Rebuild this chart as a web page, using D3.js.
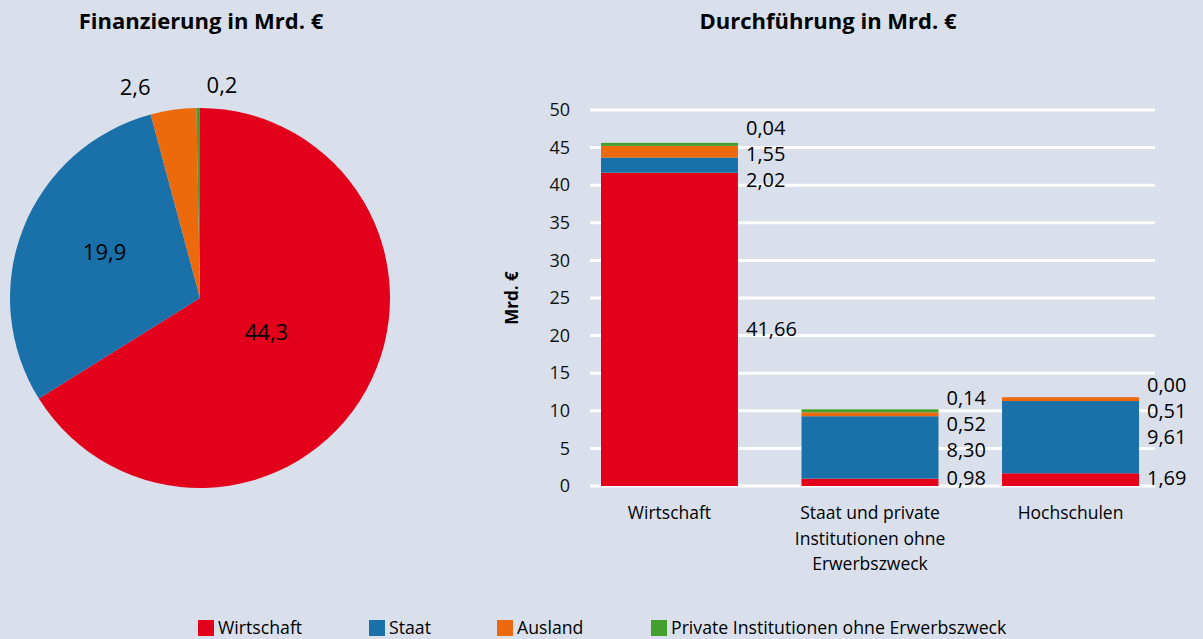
<!DOCTYPE html>
<html>
<head>
<meta charset="utf-8">
<script src="https://d3js.org/d3.v7.min.js"></script>
<style>
body { margin: 0; background: #d9e0ec; }
svg { font-family: "Open Sans", "Noto Sans", sans-serif; }
</style>
</head>
<body>
<svg width="1203" height="639"></svg>
<script>
// Finanzierung (Kreis)
var sources = ['Wirtschaft', 'Staat', 'Ausland', 'Private Institutionen ohne Erwerbszweck'];
var colors = ['#e2001a', '#1a70a8', '#ec6a0c', '#44a02c'];
var pieValues = [44.3, 19.9, 2.6, 0.2];
var pieLabels = ['44,3', '19,9', '2,6', '0,2'];

// Durchführung (gestapelte Säulen)
var sectors = ['Wirtschaft', 'Staat und private Institutionen ohne Erwerbszweck', 'Hochschulen'];
var sectorLines = [['Wirtschaft'], ['Staat und private', 'Institutionen ohne', 'Erwerbszweck'], ['Hochschulen']];
var wirtschaft = [41.66, 0.98, 1.69];
var staat = [2.02, 8.30, 9.61];
var ausland = [1.55, 0.52, 0.51];
var privat = [0.04, 0.14, 0.00];
var yTicks = [0, 5, 10, 15, 20, 25, 30, 35, 40, 45, 50];

var svg = d3.select('svg');
var fmt = function(v) { return v.toFixed(2).replace('.', ','); };

// ---- titles
svg.append('text').attr('x', 201).attr('y', 29).attr('text-anchor', 'middle')
    .style('font-weight', 'bold').style('font-size', '22px').text('Finanzierung in Mrd. €');
svg.append('text').attr('x', 828).attr('y', 29).attr('text-anchor', 'middle')
    .style('font-weight', 'bold').style('font-size', '22px').text('Durchführung in Mrd. €');

// ---- pie
var pie = d3.pie().sort(null).value(function(d) { return d; });
var arcs = pie(pieValues);
var r = 190;
var arc = d3.arc().innerRadius(0).outerRadius(r);
var gp = svg.append('g').attr('transform', 'translate(200,298)');
gp.selectAll('path').data(arcs).enter().append('path')
    .attr('d', arc)
    .attr('fill', function(d, i) { return colors[i]; });

// label radius (share of r) and nudges for the labels
var labelR = [0.4, 0.54, 1.12, 1.12];
var nudgeX = [0, 0, -35, 24];
var nudgeY = [-3, -8, 0, 0];
gp.selectAll('text.pl').data(arcs).enter().append('text')
    .attr('class', 'pl')
    .attr('transform', function(d, i) {
        var a = (d.startAngle + d.endAngle) / 2;
        var px = Math.sin(a) * r * labelR[i] + nudgeX[i];
        var py = -Math.cos(a) * r * labelR[i] + nudgeY[i];
        return 'translate(' + px + ',' + py + ')';
    })
    .attr('text-anchor', 'middle').attr('dy', '0.35em')
    .style('font-size', '22px')
    .text(function(d, i) { return pieLabels[i]; });

// ---- bars
var x = d3.scaleBand().domain(sectors).range([601, 1139]).paddingInner(0.317).paddingOuter(0);
var y = d3.scaleLinear().domain([0, 50]).range([486, 110]);

svg.append('g').selectAll('line').data(yTicks).enter().append('line')
    .attr('x1', 590).attr('x2', 1155)
    .attr('y1', function(d) { return y(d); }).attr('y2', function(d) { return y(d); })
    .attr('stroke', '#fff').attr('stroke-width', 3);

var ax = svg.append('g').attr('transform', 'translate(580,0)')
    .call(d3.axisLeft(y).tickValues(yTicks).tickSize(0).tickPadding(10));
ax.select('.domain').remove();
ax.selectAll('text').style('font-size', '18px').style('font-family', '"Open Sans", sans-serif').attr('fill', '#111');

svg.append('text').attr('transform', 'translate(518,298) rotate(-90)')
    .attr('text-anchor', 'middle').style('font-weight', 'bold').style('font-size', '17px').text('Mrd. €');

var table = sectors.map(function(s, i) {
    return { sector: s, w: wirtschaft[i], s: staat[i], a: ausland[i], p: privat[i] };
});
var keys = ['w', 's', 'a', 'p'];
var series = d3.stack().keys(keys)(table);

var gb = svg.append('g');
series.forEach(function(ser, k) {
    gb.selectAll(null).data(ser).enter().append('rect')
        .attr('x', function(d) { return x(d.data.sector); })
        .attr('width', x.bandwidth())
        .attr('y', function(d) {
            var h = y(d[0]) - y(d[1]);
            return (h > 0 && h < 3) ? y(d[0]) - 3 : y(d[1]);
        })
        .attr('height', function(d) {
            var h = y(d[0]) - y(d[1]);
            return (h > 0 && h < 3) ? 3 : h;
        })
        .attr('fill', colors[k]);
});

// value labels, spread out so they do not overlap
sectors.forEach(function(s, i) {
    var labs = series.map(function(ser) {
        var d = ser[i];
        return { v: d[1] - d[0], y: Math.min((y(d[0]) + y(d[1])) / 2, y(0) - 8) };
    });
    var gap = 26;
    for (var it = 0; it < 50; it++) {
        var moved = false;
        for (var k = 1; k < labs.length; k++) {
            var lo = labs[k - 1], hi = labs[k];
            if (lo.y - hi.y < gap - 0.01) {
                var d = (gap - (lo.y - hi.y)) / 2;
                lo.y += d; hi.y -= d; moved = true;
            }
        }
        labs.forEach(function(l) { if (l.y > y(0) - 8) l.y = y(0) - 8; });
        if (!moved) break;
    }
    labs.forEach(function(l) {
        svg.append('text')
            .attr('x', x(s) + x.bandwidth() + 8).attr('y', l.y).attr('dy', '0.35em')
            .style('font-size', '20px').text(fmt(l.v));
    });
    sectorLines[i].forEach(function(line, j) {
        svg.append('text').attr('x', x(s) + x.bandwidth() / 2).attr('y', 513 + j * 25.5)
            .attr('dy', '0.35em').attr('text-anchor', 'middle')
            .style('font-size', '17.5px').text(line);
    });
});

// ---- legend
var legX = [198, 369, 497, 651];
var lg = svg.append('g');
sources.forEach(function(s, i) {
    lg.append('rect').attr('x', legX[i]).attr('y', 620).attr('width', 16).attr('height', 16).attr('fill', colors[i]);
    lg.append('text').attr('x', legX[i] + 20).attr('y', 628).attr('dy', '0.35em')
        .style('font-size', '17.7px').text(s);
});
</script>
</body>
</html>
